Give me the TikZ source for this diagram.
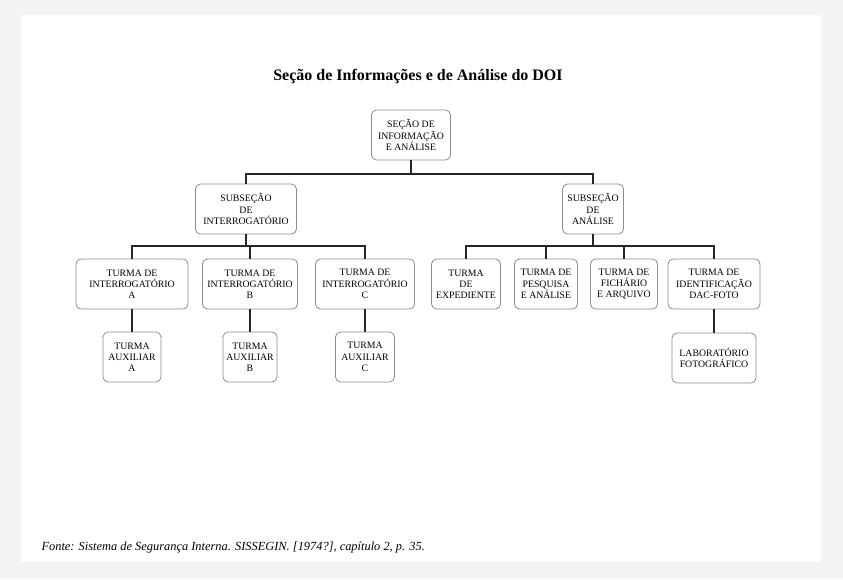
\documentclass[tikz,border=0pt]{standalone}
\usepackage{fontspec}
\setmainfont{Liberation Serif}
\usepackage{tikz}
\definecolor{pagegray}{HTML}{F3F3F3}
\definecolor{boxline}{HTML}{8C8C8C}
\def\topbus{174}
\def\lowbus{246}

\begin{document}
\begin{tikzpicture}[x=1pt, y=-1pt, line join=miter]
  \tikzstyle{unit}=[draw=boxline, line width=0.8pt, rounded corners=5pt, fill=white,
    align=center, minimum height=50pt, inner sep=1.5pt,
    font=\fontsize{9.8}{11.2}\selectfont]
  \tikzstyle{link}=[line width=1.6pt, black!85]

  \fill[pagegray] (0,0) rectangle (843,579);
  \fill[white] (21,15) rectangle (821,562);

  \node[font=\bfseries\fontsize{16}{18}\selectfont] (title) at (418,77) {Seção de Informações e de Análise do DOI};

  \node[unit, minimum width=79pt] (SI) at (411,135) {SEÇÃO DE\\INFORMAÇÃO\\E ANÁLISE};
  \node[unit, minimum width=101pt] (SUB-I) at (246,209) {SUBSEÇÃO\\DE\\INTERROGATÓRIO};
  \node[unit, minimum width=61pt] (SUB-A) at (593,209) {SUBSEÇÃO\\DE\\ANÁLISE};

  \foreach \name / \x / \w / \v in {A/132/112/58, B/250/95/54, C/365/99/59} {
    \node[unit, minimum width=\w pt] (TI-\name) at (\x,284) {TURMA DE\\INTERROGATÓRIO\\\name};
    \node[unit, minimum width=\v pt] (TA-\name) at (\x,357) {TURMA\\AUXILIAR\\\name};
  }

  \node[unit, minimum width=69pt] (T-EXP) at (466,284) {TURMA\\DE\\EXPEDIENTE};
  \node[unit, minimum width=63pt] (T-PES) at (546,284) {TURMA DE\\PESQUISA\\E ANÁLISE};
  \node[unit, minimum width=67pt] (T-FIC) at (624,284) {TURMA DE\\FICHÁRIO\\E ARQUIVO};
  \node[unit, minimum width=92pt] (T-IDE) at (714,284) {TURMA DE\\IDENTIFICAÇÃO\\DAC-FOTO};
  \node[unit, minimum width=84pt] (LAB) at (714,358) {LABORATÓRIO\\FOTOGRÁFICO};

  \coordinate (bus0) at (0,\topbus);
  \coordinate (bus1) at (0,\lowbus);

  \foreach \dest in {SUB-I,SUB-A}
    \draw[link] (SI.south) -- (SI.south |- bus0) -| (\dest.north);

  \foreach \dest in {TI-A,TI-B,TI-C}
    \draw[link] (SUB-I.south) -- (SUB-I.south |- bus1) -| (\dest.north);

  \foreach \dest in {T-EXP,T-PES,T-FIC,T-IDE}
    \draw[link] (SUB-A.south) -- (SUB-A.south |- bus1) -| (\dest.north);

  \foreach \name in {A,B,C}
    \draw[link] (TI-\name) -- (TA-\name);
  \draw[link] (T-IDE) -- (LAB);

  \node[anchor=west, font=\itshape\fontsize{12.4}{14}\selectfont] (source) at (38,548)
    {Fonte: Sistema de Segurança Interna. SISSEGIN. [1974?], capítulo 2, p. 35.};
\end{tikzpicture}
\end{document}
